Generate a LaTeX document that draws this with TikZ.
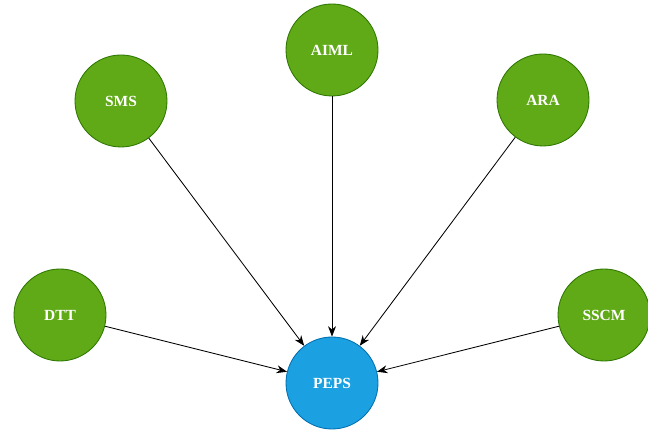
\documentclass[tikz,border=0pt]{standalone}
\usepackage{fontspec}
\setmainfont{Liberation Serif}
\usepackage{tikz}
\usetikzlibrary{arrows.meta}

\definecolor{leafgreen}{HTML}{60A917}
\definecolor{leafdark}{HTML}{2D7600}
\definecolor{skyblue}{HTML}{1BA1E2}
\definecolor{skydark}{HTML}{006EAF}

\tikzset{
  topic/.style={shape=circle,draw=leafdark,fill=leafgreen,line width=0.6pt,
    minimum size=2.3cm,inner sep=0pt,text=white,font=\fontsize{11}{13}\selectfont\bfseries},
  target/.style={topic,draw=skydark,fill=skyblue},
  link/.style={-{Stealth[length=2.6mm,width=2mm]},line width=0.6pt,black}
}

\begin{document}
\begin{tikzpicture}
                \useasboundingbox (0,0) rectangle (16.2,10.75);
                \node[topic] (AIML) at (8.3,9.5) {AIML};
                \node[topic] (SMS) at (3.025,8.225) {SMS};
                \node[topic] (ARA) at (13.575,8.25) {ARA};
                \node[topic] (DTT) at (1.5,2.875) {DTT};
                \node[topic] (SSCM) at (15.1,2.875) {SSCM};
                \node[target] (PEPS) at (8.3,1.175) {PEPS};

                \path [link](AIML) edge (PEPS);
                \path [link](SMS) edge (PEPS);
                \path [link](ARA) edge (PEPS);
                \path [link](DTT) edge (PEPS);
                \path [link](SSCM) edge (PEPS);
            \end{tikzpicture}
\end{document}
